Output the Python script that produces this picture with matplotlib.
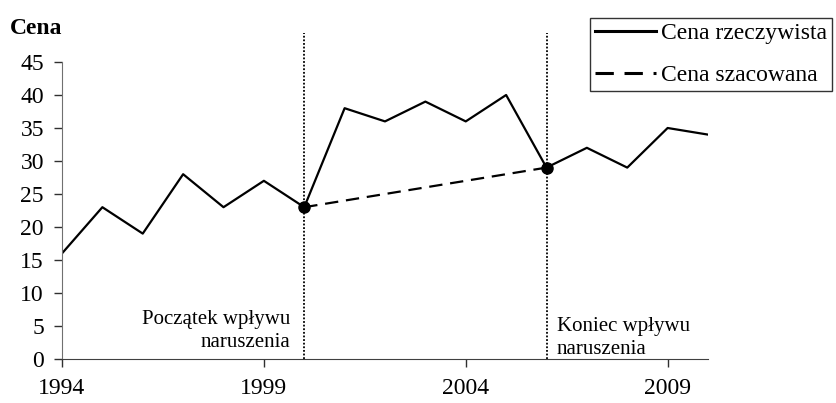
import matplotlib
matplotlib.use("Agg")
import matplotlib.pyplot as plt

years = list(range(1994, 2011))
cena_rzeczywista = [16, 23, 19, 28, 23, 27, 23, 38, 36, 39, 36, 40, 29, 32, 29, 35, 34]
lata_szac = [2000, 2006]
cena_szacowana = [23, 29]
x_ticks = [1994, 1999, 2004, 2009]
y_ticks = list(range(0, 50, 5))

plt.rcParams["font.family"] = ["Liberation Serif", "DejaVu Serif"]

fig = plt.figure(figsize=(8.37, 4.03), dpi=100)
ax = fig.add_axes([62 / 837, 44 / 403, 646 / 837, 297 / 403])

ax.plot(years, cena_rzeczywista, color="black", linewidth=1.6, label="Cena rzeczywista")
ax.plot(lata_szac, cena_szacowana, color="black", linewidth=1.6, linestyle=(0, (6, 3.5)),
        label="Cena szacowana")
ax.plot(lata_szac, cena_szacowana, "o", color="black", markersize=8, zorder=5)

for x in lata_szac:
    ax.axvline(x, ymin=0, ymax=1.098, color="black", linestyle=(0, (1, 1)), linewidth=1.3,
               clip_on=False)

ax.set_xlim(1994, 2010)
ax.set_ylim(0, 45)
ax.set_xticks(x_ticks)
ax.set_yticks(y_ticks)
ax.tick_params(axis="x", direction="out", length=6, width=1, pad=8, labelsize=17,
               color="#303030")
ax.tick_params(axis="y", direction="out", length=6, width=1, pad=7, labelsize=17,
               color="#303030")

for s in ["top", "right"]:
    ax.spines[s].set_visible(False)
ax.spines["left"].set_color("#707070")
ax.spines["bottom"].set_color("#404040")

ax.text(1999.65, 4.3, "Początek wpływu\nnaruszenia", ha="right", va="center", fontsize=15,
        linespacing=1.3)
ax.text(2006.25, 3.2, "Koniec wpływu\nnaruszenia", ha="left", va="center", fontsize=15,
        linespacing=1.3)

fig.text(10 / 837, 1 - 28 / 403, "Cena", fontsize=17, fontweight="bold", va="center", ha="left")

leg = fig.legend(loc="upper left", bbox_to_anchor=(590 / 837, 1 - 18 / 403), fontsize=17,
                 frameon=True, fancybox=False, edgecolor="black", handlelength=2.6,
                 handletextpad=0.2, borderpad=0.2, labelspacing=0.85, borderaxespad=0)
leg.get_frame().set_linewidth(1.0)
for h in leg.get_lines():
    h.set_linewidth(2.2)

fig.savefig("out.png", dpi=100)
